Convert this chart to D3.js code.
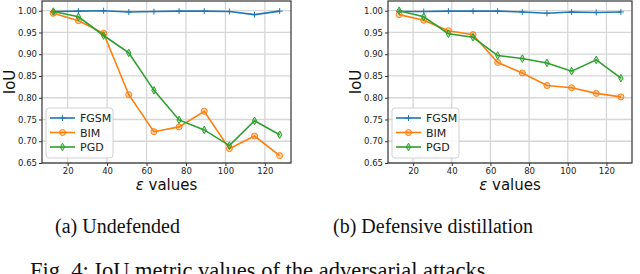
<!DOCTYPE html>
<html>
<head>
<meta charset="utf-8">
<script src="https://cdn.jsdelivr.net/npm/d3@7/dist/d3.min.js"></script>
<style>
  body { margin: 0; background: #fff; }
  svg { display: block; }
</style>
</head>
<body>
<script>
// eps values (255 * 0.05 ... 255 * 0.5)
var epsilons = [12.75, 25.5, 38.25, 51, 63.75, 76.5, 89.25, 102, 114.75, 127.5];
var xTicks = [20, 40, 60, 80, 100, 120];
var yTicks = [0.65, 0.70, 0.75, 0.80, 0.85, 0.90, 0.95, 1.00];
var seriesNames = ["FGSM", "BIM", "PGD"];
var seriesColors = ["#1f77b4", "#ff7f0e", "#2ca02c"];

// (a) Undefended
var undefFGSM = [0.998, 0.999, 1.000, 0.997, 0.998, 0.999, 0.999, 0.998, 0.991, 0.999];
var undefBIM  = [0.994, 0.977, 0.948, 0.807, 0.722, 0.733, 0.769, 0.683, 0.712, 0.667];
var undefPGD  = [0.998, 0.986, 0.943, 0.903, 0.817, 0.749, 0.726, 0.690, 0.747, 0.715];

// (b) Defensive distillation
var distFGSM = [0.998, 0.998, 0.999, 0.999, 0.999, 0.997, 0.994, 0.997, 0.996, 0.997];
var distBIM  = [0.991, 0.978, 0.954, 0.945, 0.881, 0.857, 0.828, 0.823, 0.810, 0.802];
var distPGD  = [1.000, 0.986, 0.947, 0.939, 0.897, 0.890, 0.880, 0.861, 0.887, 0.845];

var captions = ["(a) Undefended", "(b) Defensive distillation"];
var figCaption = "Fig. 4: IoU metric values of the adversarial attacks.";

var width = 640, height = 274;

var svg = d3.select("body").append("svg")
    .attr("width", width)
    .attr("height", height);

var panels = [
    { left: 42, right: 291, series: [undefFGSM, undefBIM, undefPGD], caption: captions[0], capX: 55 },
    { left: 388, right: 632, series: [distFGSM, distBIM, distPGD], caption: captions[1], capX: 333 }
];

var plotTop = 1, plotBottom = 163;

panels.forEach(function (p) {
    var x = d3.scaleLinear().domain([7.01, 133.24]).range([p.left, p.right]);
    var y = d3.scaleLinear().domain([0.65, 1.0223]).range([plotBottom, plotTop]);

    var g = svg.append("g");

    // grid
    g.selectAll(".gx").data(xTicks).enter().append("line")
        .attr("x1", function (d) { return x(d); })
        .attr("x2", function (d) { return x(d); })
        .attr("y1", plotTop).attr("y2", plotBottom)
        .attr("stroke", "#d6d6d6").attr("stroke-width", 1.3);
    g.selectAll(".gy").data(yTicks).enter().append("line")
        .attr("y1", function (d) { return y(d); })
        .attr("y2", function (d) { return y(d); })
        .attr("x1", p.left).attr("x2", p.right)
        .attr("stroke", "#d6d6d6").attr("stroke-width", 1.3);

    // axes
    var xAxis = d3.axisBottom(x).tickValues(xTicks).tickSize(3).tickPadding(2)
        .tickFormat(d3.format("d"));
    var yAxis = d3.axisLeft(y).tickValues(yTicks).tickSize(3).tickPadding(2)
        .tickFormat(d3.format(".2f"));

    var gx = g.append("g").attr("transform", "translate(0," + plotBottom + ")").call(xAxis);
    var gy = g.append("g").attr("transform", "translate(" + p.left + ",0)").call(yAxis);
    [gx, gy].forEach(function (a) {
        a.select(".domain").remove();
        a.selectAll("line").attr("stroke", "#333");
        a.selectAll("text").attr("fill", "#222")
            .style("font-family", "DejaVu Sans").style("font-size", "8.5px");
    });

    // series
    var line = d3.line()
        .x(function (d, i) { return x(epsilons[i]); })
        .y(function (d) { return y(d); });

    p.series.forEach(function (vals, si) {
        var c = seriesColors[si];
        g.append("path").datum(vals)
            .attr("d", line)
            .attr("fill", "none")
            .attr("stroke", c)
            .attr("stroke-width", 1.6);
        var m = g.selectAll(".m" + si).data(vals).enter().append("g")
            .attr("transform", function (d, i) { return "translate(" + x(epsilons[i]) + "," + y(d) + ")"; });
        drawMarker(m, si, c);
    });

    // frame
    g.append("rect")
        .attr("x", p.left).attr("y", plotTop)
        .attr("width", p.right - p.left).attr("height", plotBottom - plotTop)
        .attr("fill", "none").attr("stroke", "#333").attr("stroke-width", 1.2);

    // legend
    var lg = g.append("g").attr("transform", "translate(" + (p.left + 4) + ",108)");
    lg.append("rect")
        .attr("width", 67).attr("height", 50).attr("rx", 3)
        .attr("fill", "#fff").attr("fill-opacity", 0.85)
        .attr("stroke", "#d0d0d0").attr("stroke-width", 1);
    seriesNames.forEach(function (name, si) {
        var ly = 10 + si * 14.5;
        var c = seriesColors[si];
        lg.append("line").attr("x1", 4).attr("x2", 29).attr("y1", ly).attr("y2", ly)
            .attr("stroke", c).attr("stroke-width", 1.6);
        drawMarker(lg.append("g").attr("transform", "translate(16.5," + ly + ")"), si, c);
        lg.append("text").attr("x", 34).attr("y", ly + 4)
            .style("font-family", "DejaVu Sans").style("font-size", "11px")
            .attr("fill", "#222").text(name);
    });

    // axis labels
    g.append("text")
        .attr("transform", "translate(" + (p.left - 27) + "," + ((plotTop + plotBottom) / 2) + ") rotate(-90)")
        .attr("text-anchor", "middle")
        .style("font-family", "DejaVu Sans").style("font-size", "15px")
        .attr("fill", "#111").text("IoU");
    var xl = g.append("text")
        .attr("x", (p.left + p.right) / 2).attr("y", 190)
        .attr("text-anchor", "middle")
        .style("font-family", "DejaVu Sans").style("font-size", "15px")
        .attr("fill", "#111");
    xl.append("tspan").style("font-style", "italic").text("\u03b5");
    xl.append("tspan").text(" values");

    // subcaption
    svg.append("text")
        .attr("x", p.capX).attr("y", 233)
        .style("font-family", "Liberation Serif").style("font-size", "20px")
        .attr("fill", "#111").text(p.caption);
});

svg.append("text")
    .attr("x", 30).attr("y", 278)
    .style("font-family", "Liberation Serif").style("font-size", "22.5px")
    .attr("fill", "#111").text(figCaption);

function drawMarker(sel, si, c) {
    if (si === 0) {
        sel.append("path").attr("d", "M-3,0H3M0,-3V3")
            .attr("stroke", c).attr("stroke-width", 1);
    } else if (si === 1) {
        sel.append("circle").attr("r", 3)
            .attr("fill", c).attr("fill-opacity", 0.35)
            .attr("stroke", c).attr("stroke-width", 1);
    } else {
        sel.append("path").attr("d", "M0,-3.8L2.2,0L0,3.8L-2.2,0Z")
            .attr("fill", c).attr("fill-opacity", 0.35)
            .attr("stroke", c).attr("stroke-width", 1);
    }
}
</script>
</body>
</html>
